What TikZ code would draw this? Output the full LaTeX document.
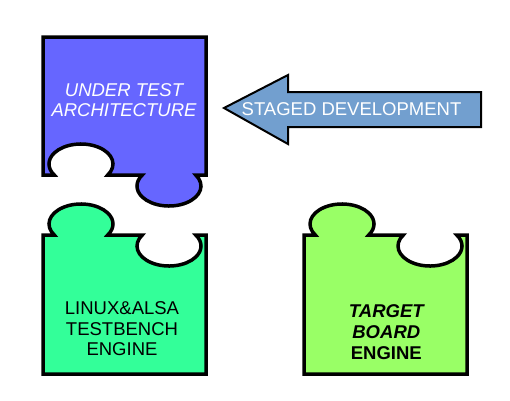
\documentclass[tikz,border=0pt]{standalone}
\usepackage{fontspec}
\setmainfont{Liberation Sans}
\definecolor{pblue}{HTML}{6666FF}
\definecolor{pgreen}{HTML}{33FF99}
\definecolor{plime}{HTML}{99FF66}
\definecolor{parrow}{HTML}{729FCF}
\begin{document}
\begin{tikzpicture}[x=1pt,y=1pt,
  piece/.style={draw=black,line width=3.5pt,line join=miter},
  bigarrow/.style={draw=black,line width=2pt,fill=parrow,line join=miter},
  lbl/.style={anchor=base,inner sep=0pt,font=\fontsize{18.5}{21}\selectfont}]
\useasboundingbox (0,0) rectangle (510,400);
% upper piece (blue)
\draw[piece,fill=pblue] (43,363) -- (206,363) -- (206,225) -- (195.7,225)
  arc[start angle=33.4,end angle=-213.4,x radius=32,y radius=20] -- (107.7,225)
  arc[start angle=-33.4,end angle=213.4,x radius=32,y radius=20] -- (43,225) -- cycle;
% lower left piece (green)
\draw[piece,fill=pgreen] (43,26) -- (43,165) -- (54.3,165)
  arc[start angle=213.4,end angle=-33.4,x radius=32,y radius=20] -- (142.3,165)
  arc[start angle=146.6,end angle=393.4,x radius=32,y radius=20] -- (206,165) -- (206,26) -- cycle;
% lower right piece (lime)
\begin{scope}[xshift=261pt]
\draw[piece,fill=plime] (43,26) -- (43,165) -- (54.3,165)
  arc[start angle=213.4,end angle=-33.4,x radius=32,y radius=20] -- (142.3,165)
  arc[start angle=146.6,end angle=393.4,x radius=32,y radius=20] -- (206,165) -- (206,26) -- cycle;
\end{scope}
% arrow
\draw[bigarrow] (224,292) -- (288,325) -- (288,308) -- (481,308) -- (481,273) -- (288,273) -- (288,256) -- cycle;
% texts
\node[lbl,text=white,font=\fontsize{18.5}{21}\selectfont\itshape] (ut1) at (124,304) {UNDER TEST};
\node[lbl,text=white,font=\fontsize{18.5}{21}\selectfont\itshape] (ut2) at (124,283.3) {ARCHITECTURE};
\node[lbl,text=white] (sd) at (351.5,284.3) {STAGED DEVELOPMENT};
\node[lbl] (lt1) at (122,85.7) {LINUX\&ALSA};
\node[lbl] (lt2) at (122,65) {TESTBENCH};
\node[lbl] (lt3) at (122,44.3) {ENGINE};
\node[lbl,font=\fontsize{18.5}{21}\selectfont\bfseries\itshape] (tb1) at (386.3,82.7) {TARGET};
\node[lbl,font=\fontsize{18.5}{21}\selectfont\bfseries\itshape] (tb2) at (386.3,61.7) {BOARD};
\node[lbl,font=\fontsize{18.5}{21}\selectfont\bfseries] (tb3) at (386.3,41) {ENGINE};
\end{tikzpicture}
\end{document}
